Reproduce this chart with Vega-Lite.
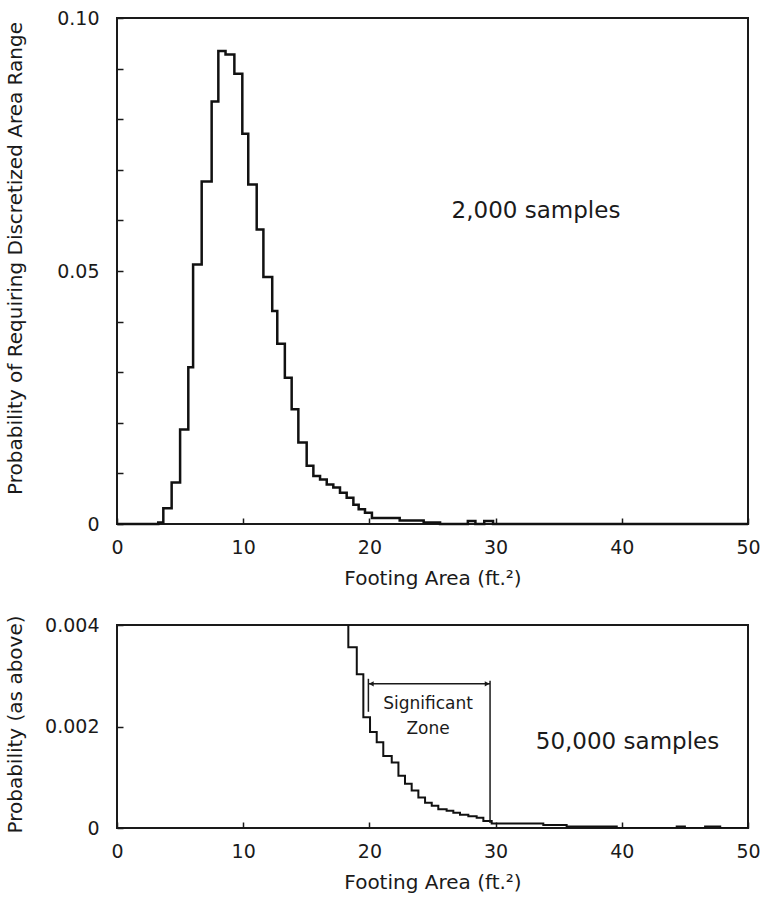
{
  "$schema": "https://vega.github.io/schema/vega-lite/v6.json",
  "background": "white",
  "padding": {"left": 3, "top": 8, "right": 12, "bottom": 10},
  "spacing": 24,
  "config": {
    "font": "DejaVu Sans",
    "view": {"stroke": "#1a1a1a", "strokeWidth": 2},
    "axis": {
      "domain": false, "grid": false, "labelFlush": false,
      "tickColor": "#1a1a1a", "tickSize": -6, "tickWidth": 1.5,
      "labelFont": "DejaVu Sans", "labelFontSize": 19, "labelColor": "#1a1a1a",
      "titleFont": "DejaVu Sans", "titleFontSize": 20, "titleFontWeight": "normal", "titleColor": "#1a1a1a"
    }
  },
  "datasets": {
    "top": [
      {"x": 0, "p": 0}, {"x": 3.27, "p": 0.0003}, {"x": 3.67, "p": 0.0031}, {"x": 4.33, "p": 0.0082},
      {"x": 5.0, "p": 0.0187}, {"x": 5.65, "p": 0.031}, {"x": 6.03, "p": 0.0513}, {"x": 6.71, "p": 0.0677},
      {"x": 7.5, "p": 0.0835}, {"x": 8.03, "p": 0.0935}, {"x": 8.6, "p": 0.0928}, {"x": 9.3, "p": 0.089},
      {"x": 9.93, "p": 0.0771}, {"x": 10.4, "p": 0.0671}, {"x": 11.07, "p": 0.0582}, {"x": 11.6, "p": 0.0488},
      {"x": 12.3, "p": 0.0421}, {"x": 12.7, "p": 0.0356}, {"x": 13.3, "p": 0.0289}, {"x": 13.84, "p": 0.0227},
      {"x": 14.37, "p": 0.0161}, {"x": 15.03, "p": 0.0115}, {"x": 15.56, "p": 0.0095}, {"x": 16.09, "p": 0.0088},
      {"x": 16.62, "p": 0.0078}, {"x": 17.14, "p": 0.0072}, {"x": 17.67, "p": 0.0062}, {"x": 18.2, "p": 0.0052},
      {"x": 18.73, "p": 0.0038}, {"x": 19.15, "p": 0.0029}, {"x": 19.65, "p": 0.0022}, {"x": 20.2, "p": 0.0012},
      {"x": 22.4, "p": 0.0007}, {"x": 24.3, "p": 0.0003}, {"x": 25.6, "p": 0}, {"x": 27.8, "p": 0.0006},
      {"x": 28.4, "p": 0}, {"x": 29.1, "p": 0.0006}, {"x": 29.8, "p": 0}, {"x": 50, "p": 0}
    ],
    "bottom": [
      {"x": 17.5, "p": 0.005}, {"x": 18.33, "p": 0.00356}, {"x": 19.0, "p": 0.00303}, {"x": 19.52, "p": 0.00218},
      {"x": 20.05, "p": 0.00189}, {"x": 20.58, "p": 0.00169}, {"x": 21.1, "p": 0.00142}, {"x": 21.77, "p": 0.00129},
      {"x": 22.3, "p": 0.00103}, {"x": 22.82, "p": 0.00087}, {"x": 23.35, "p": 0.00074}, {"x": 23.88, "p": 0.0006},
      {"x": 24.41, "p": 0.0005}, {"x": 24.94, "p": 0.00044}, {"x": 25.46, "p": 0.00037}, {"x": 26.12, "p": 0.00034},
      {"x": 26.65, "p": 0.0003}, {"x": 27.18, "p": 0.00026}, {"x": 27.84, "p": 0.00023}, {"x": 28.5, "p": 0.0002},
      {"x": 29.03, "p": 0.00014}, {"x": 29.69, "p": 0.00009}, {"x": 33.78, "p": 0.00006}, {"x": 35.63, "p": 0.00003},
      {"x": 39.6, "p": 0}, {"x": 44.35, "p": 0.00003}, {"x": 45.0, "p": 0}, {"x": 46.6, "p": 0.00003},
      {"x": 47.8, "p": 0}, {"x": 50, "p": 0}
    ],
    "bracket": [
      {"x": 19.92, "x2": 29.56, "y": 0.00284, "y2": 0.00284},
      {"x": 19.92, "x2": 19.92, "y": 0.00229, "y2": 0.00294},
      {"x": 29.56, "x2": 29.56, "y": 0.0001, "y2": 0.0029}
    ],
    "arrows": [
      {"x": 20.15, "y": 0.00284, "s": "triangle-left"},
      {"x": 29.33, "y": 0.00284, "s": "triangle-right"}
    ]
  },
  "vconcat": [
    {
      "width": 631,
      "height": 506,
      "layer": [
        {
          "data": {"name": "top"},
          "mark": {"type": "line", "interpolate": "step-after", "color": "#111111", "strokeWidth": 2.5},
          "encoding": {
            "x": {"field": "x", "type": "quantitative", "scale": {"domain": [0, 50], "nice": false},
                  "axis": {"values": [0, 10, 20, 30, 40, 50], "title": "Footing Area (ft.²)", "labelPadding": 20, "titlePadding": 11}},
            "y": {"field": "p", "type": "quantitative", "scale": {"domain": [0, 0.1], "nice": false},
                  "axis": {"values": [0, 0.01, 0.02, 0.03, 0.04, 0.05, 0.06, 0.07, 0.08, 0.09, 0.1],
                           "labelExpr": "datum.value == 0 ? '0' : (abs(datum.value - 0.05) < 0.0001 ? '0.05' : (abs(datum.value - 0.1) < 0.0001 ? '0.10' : ''))",
                           "labelPadding": 24,
                           "title": "Probability of Requiring Discretized Area Range", "titleX": -92, "titleY": 240}}
          }
        },
        {
          "data": {"values": [{"x": 33.2, "p": 0.0619, "t": "2,000 samples"}]},
          "mark": {"type": "text", "fontSize": 23, "align": "center", "baseline": "middle", "color": "#1a1a1a"},
          "encoding": {
            "x": {"field": "x", "type": "quantitative"},
            "y": {"field": "p", "type": "quantitative"},
            "text": {"field": "t"}
          }
        }
      ]
    },
    {
      "width": 631,
      "height": 203,
      "layer": [
        {
          "data": {"name": "bottom"},
          "mark": {"type": "line", "interpolate": "step-after", "color": "#111111", "strokeWidth": 2, "clip": true},
          "encoding": {
            "x": {"field": "x", "type": "quantitative", "scale": {"domain": [0, 50], "nice": false},
                  "axis": {"values": [0, 10, 20, 30, 40, 50], "title": "Footing Area (ft.²)", "labelPadding": 20, "titlePadding": 11}},
            "y": {"field": "p", "type": "quantitative", "scale": {"domain": [0, 0.004], "nice": false},
                  "axis": {"values": [0, 0.002, 0.004],
                           "labelExpr": "datum.value == 0 ? '0' : format(datum.value, '.3f')",
                           "labelPadding": 24,
                           "title": "Probability (as above)", "titleX": -92, "titleY": 99}}
          }
        },
        {
          "data": {"name": "bracket"},
          "mark": {"type": "rule", "color": "#1a1a1a", "strokeWidth": 1.5},
          "encoding": {
            "x": {"field": "x", "type": "quantitative"},
            "x2": {"field": "x2"},
            "y": {"field": "y", "type": "quantitative"},
            "y2": {"field": "y2"}
          }
        },
        {
          "data": {"name": "arrows"},
          "mark": {"type": "point", "filled": true, "color": "#1a1a1a", "size": 30, "opacity": 1},
          "encoding": {
            "x": {"field": "x", "type": "quantitative"},
            "y": {"field": "y", "type": "quantitative"},
            "shape": {"field": "s", "type": "nominal", "scale": null}
          }
        },
        {
          "data": {"values": [
            {"x": 24.65, "p": 0.00244, "t": "Significant"},
            {"x": 24.65, "p": 0.00195, "t": "Zone"}
          ]},
          "mark": {"type": "text", "fontSize": 17, "align": "center", "baseline": "middle", "color": "#1a1a1a"},
          "encoding": {
            "x": {"field": "x", "type": "quantitative"},
            "y": {"field": "p", "type": "quantitative"},
            "text": {"field": "t"}
          }
        },
        {
          "data": {"values": [{"x": 40.45, "p": 0.0017, "t": "50,000 samples"}]},
          "mark": {"type": "text", "fontSize": 23, "align": "center", "baseline": "middle", "color": "#1a1a1a"},
          "encoding": {
            "x": {"field": "x", "type": "quantitative"},
            "y": {"field": "p", "type": "quantitative"},
            "text": {"field": "t"}
          }
        }
      ]
    }
  ]
}
